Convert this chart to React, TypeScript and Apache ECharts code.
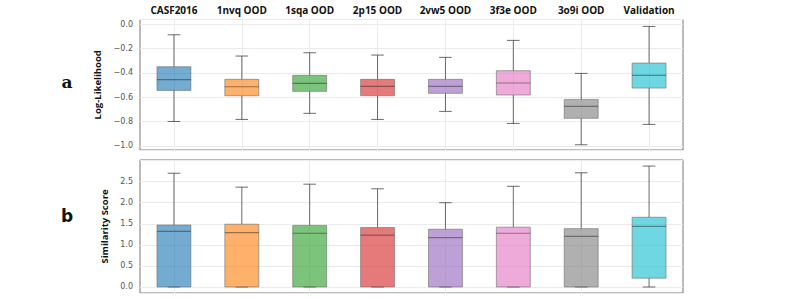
import React, { useEffect, useRef } from "react";
import * as echarts from "echarts";

const categories = ["CASF2016", "1nvq OOD", "1sqa OOD", "2p15 OOD", "2vw5 OOD", "3f3e OOD", "3o9i OOD", "Validation"];
const colors = ["#1f77b4", "#ff7f0e", "#2ca02c", "#d62728", "#9467bd", "#e377c2", "#7f7f7f", "#17becf"];

// Panel a: Log-Likelihood
const llLow = [-0.80, -0.783, -0.733, -0.783, -0.717, -0.816, -0.992, -0.824];
const llQ1 = [-0.544, -0.588, -0.552, -0.588, -0.568, -0.582, -0.774, -0.525];
const llMed = [-0.456, -0.514, -0.486, -0.511, -0.511, -0.483, -0.675, -0.42];
const llQ3 = [-0.349, -0.453, -0.42, -0.453, -0.453, -0.382, -0.618, -0.319];
const llHigh = [-0.086, -0.261, -0.234, -0.253, -0.272, -0.132, -0.404, -0.017];

// Panel b: Similarity Score
const simLow = [0, 0, 0, 0, 0, 0, 0, 0];
const simQ1 = [0, 0, 0, 0, 0, 0, 0, 0.21];
const simMed = [1.32, 1.29, 1.275, 1.23, 1.17, 1.275, 1.2, 1.44];
const simQ3 = [1.47, 1.49, 1.46, 1.41, 1.37, 1.42, 1.385, 1.655];
const simHigh = [2.70, 2.37, 2.44, 2.33, 2.0, 2.39, 2.71, 2.87];

function hexA(hex: string, a: number) {
  const r = parseInt(hex.slice(1, 3), 16);
  const g = parseInt(hex.slice(3, 5), 16);
  const b = parseInt(hex.slice(5, 7), 16);
  return `rgba(${r},${g},${b},${a})`;
}

function build(low: number[], q1: number[], med: number[], q3: number[], high: number[]) {
  return categories.map((_, i) => [i, low[i], q1[i], med[i], q3[i], high[i]]);
}

const renderBox = (params: any, api: any) => {
  const idx = api.value(0);
  const pLow = api.coord([idx, api.value(1)]);
  const pQ1 = api.coord([idx, api.value(2)]);
  const pMed = api.coord([idx, api.value(3)]);
  const pQ3 = api.coord([idx, api.value(4)]);
  const pHigh = api.coord([idx, api.value(5)]);
  const band = api.size([1, 0])[0];
  const bw = band * 0.5;
  const cw = bw * 0.37;
  const x = pMed[0];
  const col = colors[params.dataIndex];
  const wStyle = { stroke: "rgba(70,70,70,0.8)", lineWidth: 1 };
  return {
    type: "group",
    children: [
      { type: "line", shape: { x1: x, y1: pHigh[1], x2: x, y2: pQ3[1] }, style: wStyle },
      { type: "line", shape: { x1: x, y1: pQ1[1], x2: x, y2: pLow[1] }, style: wStyle },
      { type: "line", shape: { x1: x - cw / 2, y1: pHigh[1], x2: x + cw / 2, y2: pHigh[1] }, style: wStyle },
      { type: "line", shape: { x1: x - cw / 2, y1: pLow[1], x2: x + cw / 2, y2: pLow[1] }, style: wStyle },
      {
        type: "rect",
        shape: { x: x - bw / 2, y: pQ3[1], width: bw, height: pQ1[1] - pQ3[1] },
        style: { fill: hexA(col, 0.62), stroke: "rgba(110,110,110,0.6)", lineWidth: 1 },
      },
      {
        type: "line",
        shape: { x1: x - bw / 2, y1: pMed[1], x2: x + bw / 2, y2: pMed[1] },
        style: { stroke: "rgba(30,30,30,0.45)", lineWidth: 1.2 },
      },
    ],
  };
};

const fmt = (v: number) => {
  const s = Math.abs(v).toFixed(1);
  return v < -1e-9 ? "\u2212" + s : s;
};

export default function App() {
  const ref = useRef<HTMLDivElement>(null);
  useEffect(() => {
    if (!ref.current) return;
    const chart = echarts.init(ref.current, undefined, { renderer: "svg" });
    const gridLine = { show: true, lineStyle: { color: "#ebebeb", width: 1 } };
    const yLabel = { fontSize: 8, color: "#555", margin: 7, fontFamily: "DejaVu Sans" };
    const yName = { fontSize: 9.5, fontWeight: "bold", color: "#111", fontFamily: "Open Sans" };
    chart.setOption({
      animation: false,
      backgroundColor: "#fff",
      grid: [
        { left: 140, top: 19.5, width: 543, height: 130.5, show: true, borderColor: "#777", borderWidth: 1, backgroundColor: "transparent" },
        { left: 140, top: 160, width: 543, height: 133, show: true, borderColor: "#777", borderWidth: 1, backgroundColor: "transparent" },
      ],
      xAxis: [
        {
          type: "category",
          gridIndex: 0,
          data: categories,
          position: "top",
          axisLine: { show: false },
          axisTick: { show: false },
          axisLabel: { interval: 0, fontSize: 10, fontWeight: "bold", color: "#111", margin: 5, fontFamily: "Open Sans" },
          splitLine: { ...gridLine, alignWithLabel: true },
        },
        {
          type: "category",
          gridIndex: 1,
          data: categories,
          axisLine: { show: false },
          axisTick: { show: false },
          axisLabel: { show: false },
          splitLine: { ...gridLine, alignWithLabel: true },
        },
      ],
      yAxis: [
        {
          type: "value",
          gridIndex: 0,
          min: -1.035,
          max: 0.04,
          splitNumber: 5,
          name: "Log-Likelihood",
          nameLocation: "middle",
          nameGap: 28,
          nameTextStyle: yName,
          axisLine: { show: false },
          axisTick: { show: false },
          axisLabel: { ...yLabel, showMinLabel: false, showMaxLabel: false, formatter: (v: number) => (v < -1.01 || v > 0.01 ? "" : fmt(v)) },
          splitLine: gridLine,
        },
        {
          type: "value",
          gridIndex: 1,
          min: -0.143,
          max: 3.014,
          splitNumber: 6,
          name: "Similarity Score",
          nameLocation: "middle",
          nameGap: 28,
          nameTextStyle: yName,
          axisLine: { show: false },
          axisTick: { show: false },
          axisLabel: { ...yLabel, showMinLabel: false, formatter: (v: number) => (v < -0.01 || v > 2.9 ? "" : fmt(v)) },
          splitLine: gridLine,
        },
      ],
      graphic: [
        { type: "text", x: 67, y: 82, style: { text: "a", font: "bold 17px 'DejaVu Serif'", fill: "#111", textAlign: "center", textVerticalAlign: "middle" } },
        { type: "text", x: 67, y: 216, style: { text: "b", font: "bold 17px 'DejaVu Sans'", fill: "#111", textAlign: "center", textVerticalAlign: "middle" } },
      ],
      series: [
        {
          type: "custom",
          xAxisIndex: 0,
          yAxisIndex: 0,
          renderItem: renderBox,
          encode: { x: 0, y: [1, 2, 3, 4, 5] },
          data: build(llLow, llQ1, llMed, llQ3, llHigh),
          z: 5,
        },
        {
          type: "custom",
          xAxisIndex: 1,
          yAxisIndex: 1,
          renderItem: renderBox,
          encode: { x: 0, y: [1, 2, 3, 4, 5] },
          data: build(simLow, simQ1, simMed, simQ3, simHigh),
          z: 5,
        },
      ],
    });
    return () => chart.dispose();
  }, []);
  return <div ref={ref} style={{ position: "absolute", left: 0, top: 0, width: 793, height: 298 }} />;
}
